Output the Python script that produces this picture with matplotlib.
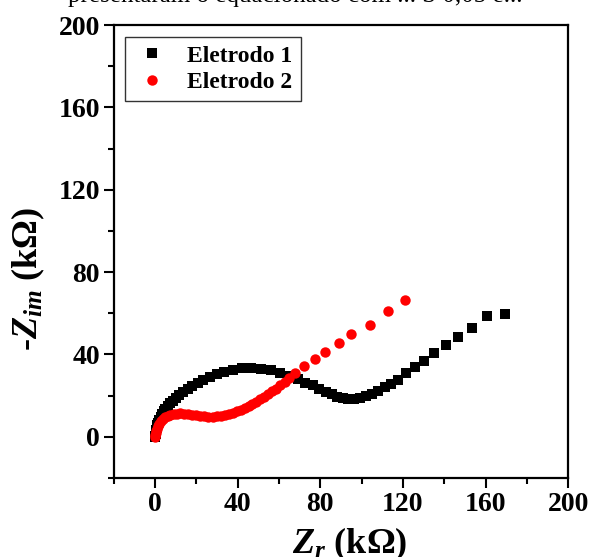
import matplotlib
matplotlib.use('Agg')
import matplotlib.pyplot as plt
from matplotlib.ticker import MultipleLocator

# Fonte tipo Times, em negrito
plt.rcParams['font.family'] = 'Liberation Serif'
plt.rcParams['font.weight'] = 'bold'
plt.rcParams['axes.labelweight'] = 'bold'
plt.rcParams['mathtext.fontset'] = 'custom'
plt.rcParams['mathtext.it'] = 'Liberation Serif:italic:bold'
plt.rcParams['mathtext.rm'] = 'Liberation Serif:bold'
plt.rcParams['mathtext.bf'] = 'Liberation Serif:bold'

# Eletrodo 1 (quadrados pretos)
zr_1 = [0, 0.1, 0.2, 0.35, 0.55, 0.8, 1.1, 1.5, 2.0, 2.6, 3.3, 4.1, 5.0, 6.0, 7.2, 8.5,
        10.0, 11.7, 13.6, 15.7, 18.0, 20.6, 23.4, 26.5, 29.8, 33.5, 37.5, 41.9,
        46.5, 51.3, 56.0, 60.6, 65.0, 69.0, 72.7, 76.2, 79.5, 82.5, 85.4, 88.2,
        90.9, 93.5, 96.2, 99.0, 101.9, 104.9, 108.0, 111.1, 114.3, 117.6,
        121.6, 125.7, 130.3, 135.0, 140.8, 146.7, 153.3, 160.5, 169.4]
zim_1 = [0, 0.6, 1.3, 2.2, 3.2, 4.3, 5.5, 6.8, 8.2, 9.6, 11.0, 12.4, 13.7, 15.0, 16.3, 17.6,
         18.9, 20.3, 21.7, 23.2, 24.7, 26.2, 27.6, 29.0, 30.4, 31.6, 32.6, 33.2,
         33.3, 33.0, 32.2, 31.0, 29.6, 28.0, 26.3, 24.9, 23.3, 21.9, 20.6, 19.5,
         18.7, 18.3, 18.4, 18.9, 19.8, 21.0, 22.4, 24.0, 25.8, 27.8,
         30.8, 33.8, 37.0, 40.6, 44.4, 48.6, 53.0, 58.5, 59.8]

# Eletrodo 2 (circulos vermelhos)
zr_2 = [0, 0.1, 0.3, 0.55, 0.9, 1.4, 2.0, 2.8, 3.7, 4.8, 6.0, 7.4, 8.9, 10.5, 12.2,
        14.0, 15.9, 17.8, 19.8, 21.8, 23.8, 25.8, 27.8, 29.8, 31.8, 33.8, 35.7,
        37.6, 39.5, 41.4, 43.3, 45.2, 47.1, 49.0, 50.9, 52.8, 54.7, 56.6, 58.6,
        60.6, 62.7, 65.0, 67.6, 72.3, 77.5, 82.4, 89.2, 95.0, 103.8, 112.9, 121.0]
zim_2 = [0, 0.8, 1.8, 2.9, 4.0, 5.2, 6.4, 7.5, 8.5, 9.4, 10.1, 10.6, 11.0, 11.2, 11.3,
         11.2, 11.0, 10.7, 10.4, 10.1, 9.9, 9.8, 9.8, 9.9, 10.2, 10.6, 11.1,
         11.7, 12.4, 13.2, 14.1, 15.0, 16.0, 17.1, 18.2, 19.4, 20.7, 22.0, 23.4,
         24.9, 26.5, 28.6, 30.8, 34.4, 37.9, 41.4, 45.7, 49.9, 54.4, 61.0, 66.2]

fig = plt.figure(figsize=(5.9, 5.57), dpi=100)
ax = fig.add_axes([0.193, 0.142, 0.770, 0.813])

ax.plot(zr_1, zim_1, 's', color='black', ms=6.8, mew=0, label='Eletrodo 1')
ax.plot(zr_2, zim_2, 'o', color='red', ms=7.5, mew=0, label='Eletrodo 2')

ax.set_xlim(-20, 200)
ax.set_ylim(-20, 200)
ax.xaxis.set_major_locator(MultipleLocator(40))
ax.xaxis.set_minor_locator(MultipleLocator(20))
ax.yaxis.set_major_locator(MultipleLocator(40))
ax.yaxis.set_minor_locator(MultipleLocator(20))
ax.tick_params(which='major', direction='out', length=7, width=1.5, labelsize=20, pad=3)
ax.tick_params(which='minor', direction='out', length=4, width=1.5)
for s in ax.spines.values():
    s.set_linewidth(1.6)

ax.set_xlabel('$Z_r$ (kΩ)', fontsize=26)
ax.xaxis.set_label_coords(0.52, -0.105, transform=ax.transAxes)
ax.set_ylabel('-$Z_{im}$ (kΩ)', fontsize=26)
ax.yaxis.set_label_coords(-0.148, 0.44, transform=ax.transAxes)

leg = ax.legend(loc='upper left', fontsize=17, frameon=True, fancybox=False,
                edgecolor='black', handletextpad=0.7, borderpad=0.35,
                labelspacing=0.2, handlelength=1.6, borderaxespad=0,
                bbox_to_anchor=(0.024, 0.974))
leg.get_frame().set_linewidth(1.0)

# resto do texto do documento cortado no topo
fig.text(0.5, 0.997, 'presentaram o equacionado com ... S 0,05 e...', ha='center',
         va='baseline', fontsize=18, fontweight='normal')

fig.savefig('out.png', dpi=100)
